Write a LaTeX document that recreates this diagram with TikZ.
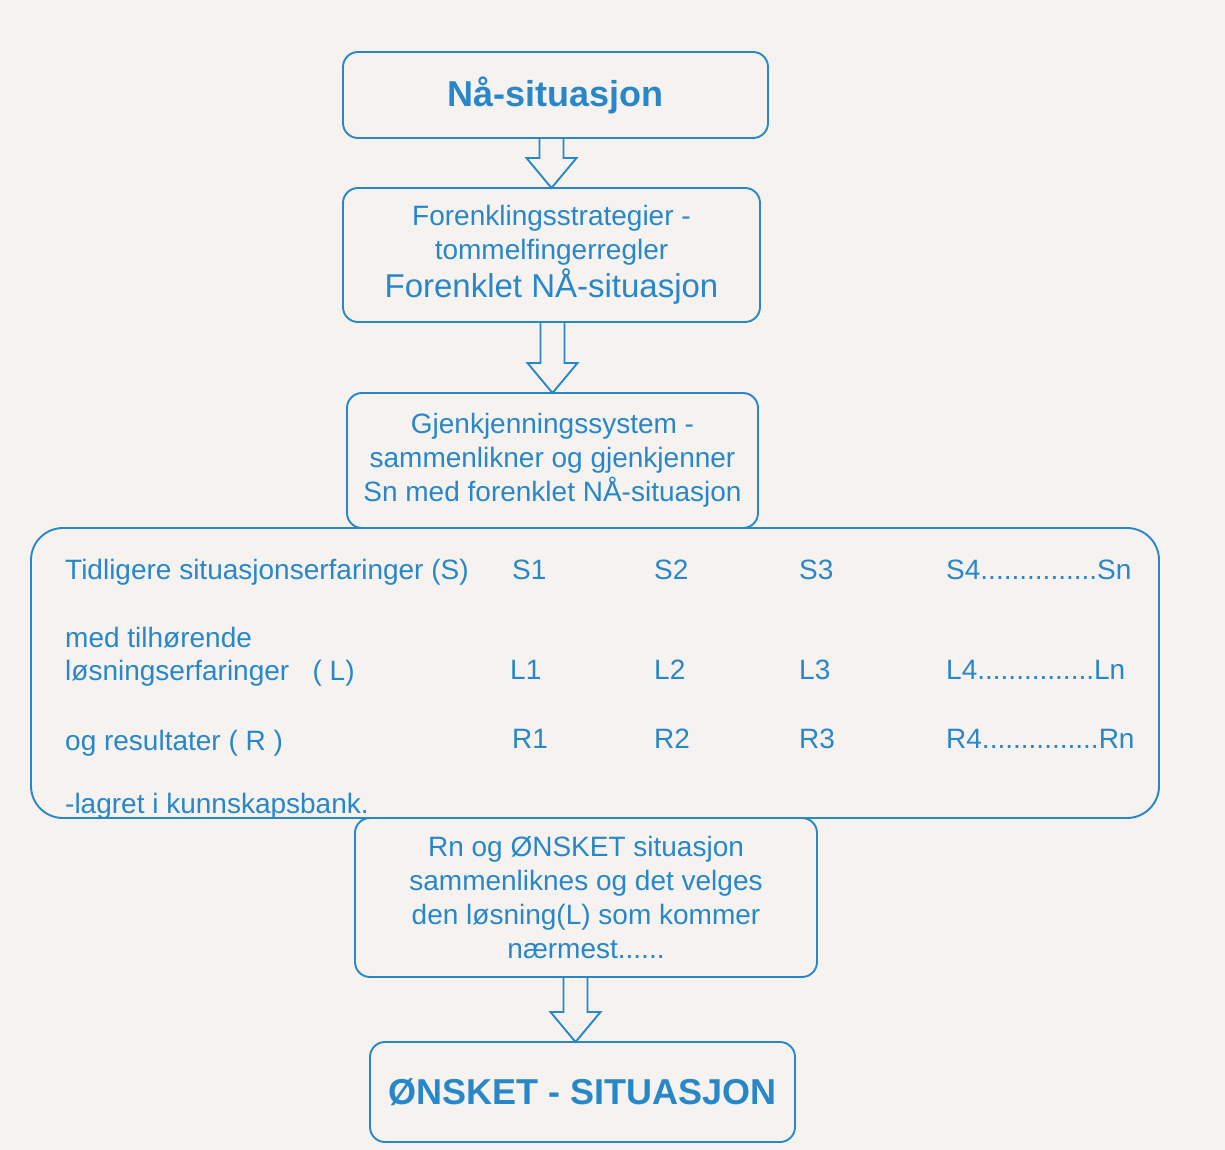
\documentclass[tikz,border=0pt]{standalone}
\usepackage{fontspec}
\setmainfont{Liberation Sans}
\usepackage{xcolor}
\usepackage{tikz}
\usetikzlibrary{positioning,calc}

\definecolor{ink}{RGB}{40,135,200}
\definecolor{paper}{RGB}{245,242,240}

\newcommand\hollowarrow[3][0]{%
  \draw[ink, line width=1.9pt]
    ($(#3.north |- #2.south)+(#1-12,0)$) -- ($(#3.north)+(#1-12,30)$) -- ($(#3.north)+(#1-25,30)$)
    -- ($(#3.north)+(#1,0)$) -- ($(#3.north)+(#1+25,30)$) -- ($(#3.north)+(#1+12,30)$) -- ($(#3.north |- #2.south)+(#1+12,0)$);}

\begin{document}
\begin{tikzpicture}[x=1pt, y=1pt, text=ink, font=\fontsize{28}{34}\selectfont,
  box/.style={draw=ink, line width=1.9pt, rounded corners=15pt, align=center, inner sep=0pt, outer sep=0pt},
  entry/.style={anchor=base west, inner sep=0pt}]
  \fill[paper] (0,0) rectangle (1225,-1150);
  \useasboundingbox (0,0) rectangle (1225,-1150);

  \node[box, minimum width=425pt, minimum height=86pt, font=\fontsize{36}{40}\selectfont\bfseries] (naa) at (555.5,-95) {Nå-situasjon};
  \node[box, minimum width=417pt, minimum height=134pt, below=50pt of naa, xshift=-4pt] (forenkl)
    {Forenklingsstrategier -\\tommelfingerregler\\[2pt]{\fontsize{33}{37}\selectfont Forenklet NÅ-situasjon}};
  \node[box, minimum width=411pt, minimum height=135pt, below=71pt of forenkl, xshift=1pt] (gjenk)
    {Gjenkjenningssystem -\\sammenlikner og gjenkjenner\\Sn med forenklet NÅ-situasjon};
  \node[box, rounded corners=32pt, minimum width=1128pt, minimum height=290pt, below=0pt of gjenk, xshift=42.5pt] (bank) {};
  \node[box, minimum width=462pt, minimum height=159pt, below=0pt of bank, xshift=-9pt] (valg)
    {Rn og ØNSKET situasjon\\sammenliknes og det velges\\den løsning(L) som kommer\\nærmest......};
  \node[box, minimum width=425pt, minimum height=100pt, below=65pt of valg, xshift=-3.5pt, font=\fontsize{36}{40}\selectfont\bfseries] (onsket)
    {ØNSKET - SITUASJON};

  % contents of the knowledge bank
  \node[entry] (tidl) at (65,-579) {Tidligere situasjonserfaringer (S)};
  \node[entry] (med) at (65,-647) {med tilhørende};
  \node[entry] (losn) at (65,-680) {løsningserfaringer \ \ ( L)};
  \node[entry] (resu) at (65,-750) {og resultater ( R )};
  \node[entry] (lagr) at (65,-813) {-lagret i kunnskapsbank.};

  \node[entry] (s1) at (512,-579) {S1};
  \node[entry] (s2) at (654,-579) {S2};
  \node[entry] (s3) at (799,-579) {S3};
  \node[entry] (sn) at (946,-579) {S4...............Sn};
  \node[entry] (l1) at (510,-679) {L1};
  \node[entry] (l2) at (654,-679) {L2};
  \node[entry] (l3) at (799,-679) {L3};
  \node[entry] (ln) at (946,-679) {L4...............Ln};
  \node[entry] (r1) at (512,-748) {R1};
  \node[entry] (r2) at (654,-748) {R2};
  \node[entry] (r3) at (799,-748) {R3};
  \node[entry] (rn) at (946,-748) {R4...............Rn};

  \hollowarrow{naa}{forenkl}
  \hollowarrow{forenkl}{gjenk}
  \hollowarrow[-7]{valg}{onsket}
\end{tikzpicture}
\end{document}
